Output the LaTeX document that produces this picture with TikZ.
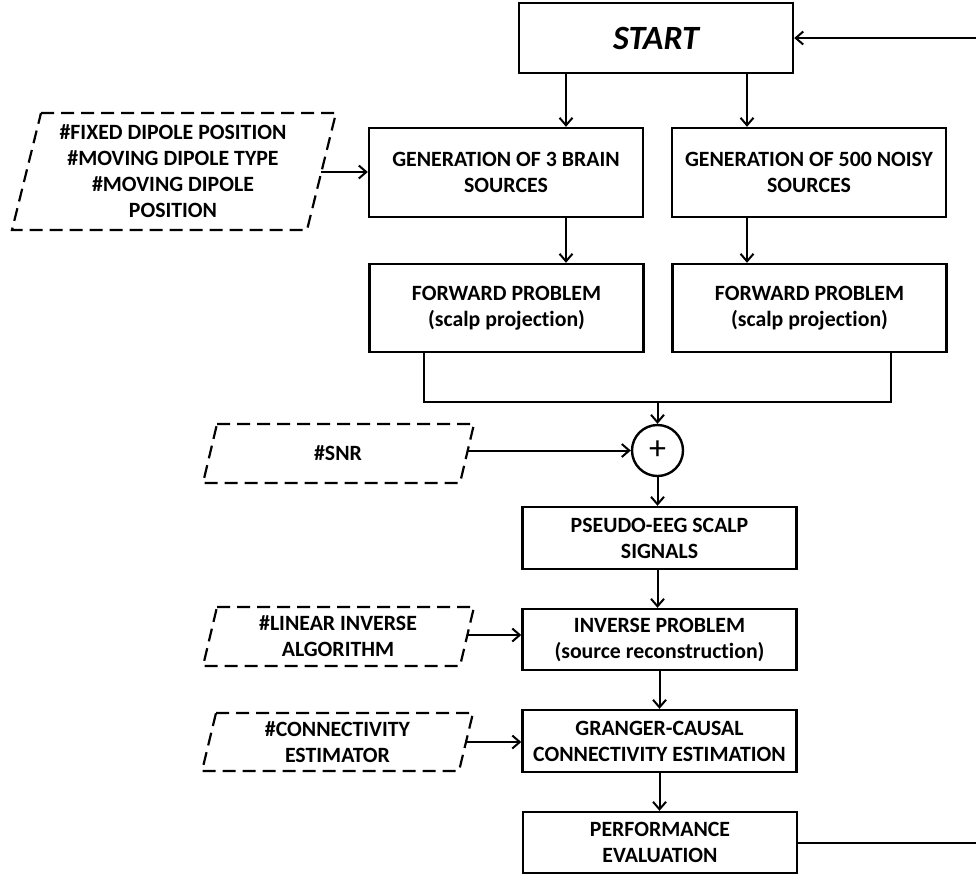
\documentclass[tikz,border=0pt]{standalone}
\usepackage{fontspec}
\setmainfont{Carlito}[Ligatures={NoCommon}]
\usetikzlibrary{arrows.meta}
\begin{document}
\begin{tikzpicture}[x=1pt,y=-1pt,
  box/.style={draw, line width=2.4pt, minimum width=274pt, align=center,
    font=\bfseries\fontsize{21.8}{26}\selectfont, inner sep=0pt},
  para/.style={draw, dash pattern=on 13pt off 7pt, line width=2.2pt},
  ptext/.style={align=center, font=\bfseries\fontsize{21.8}{26}\selectfont, inner sep=0pt},
  arr/.style={line width=2pt, -{Straight Barb[length=7.5pt,width=13pt]}},
  ln/.style={line width=2pt}
]
\useasboundingbox (0,0) rectangle (976,876);

% main boxes
\node[box, minimum height=70pt, font=\bfseries\itshape\fontsize{34}{40}\selectfont] (start) at (656,38) {START};
\node[box, minimum height=89pt] (gen1) at (506,172.5) {GENERATION OF 3 BRAIN\\SOURCES};
\node[box, minimum height=89pt] (gen2) at (809,172.5) {GENERATION OF 500 NOISY\\SOURCES};
\node[box, minimum height=88pt] (fwd1) at (506.5,308) {FORWARD PROBLEM\\(scalp projection)};
\node[box, minimum height=88pt] (fwd2) at (809.5,308) {FORWARD PROBLEM\\(scalp projection)};
\node[circle, draw, line width=2.4pt, minimum size=51pt, inner sep=0pt,
  font=\fontsize{34}{34}\selectfont] (sum) at (657.5,450.5) {+};
\node[box, minimum height=62pt] (pseudo) at (659.5,538) {PSEUDO-EEG SCALP\\SIGNALS};
\node[box, minimum height=61pt] (inverse) at (659.5,639.5) {INVERSE PROBLEM\\(source reconstruction)};
\node[box, minimum height=62pt] (granger) at (659.5,741) {GRANGER-CAUSAL\\CONNECTIVITY ESTIMATION};
\node[box, minimum height=61pt] (perf) at (660,842.5) {PERFORMANCE\\EVALUATION};

% parameter parallelograms
\draw[para] (41,113) -- (336,113) -- (307,230) -- (12,230) -- cycle;
\node[ptext] (fixed) at (173,171.5) {\#FIXED DIPOLE POSITION\\\#MOVING DIPOLE TYPE\\\#MOVING DIPOLE\\POSITION};
\coordinate (fixedR) at (321.4,172);

\draw[para] (217,424) -- (474,424) -- (460,483) -- (203,483) -- cycle;
\node[ptext] (snr) at (338,453.5) {\#SNR};
\coordinate (snrR) at (467.7,450.5);

\draw[para] (217,607) -- (474,607) -- (460,666) -- (203,666) -- cycle;
\node[ptext] (linear) at (338,636.5) {\#LINEAR INVERSE\\ALGORITHM};
\coordinate (linR) at (467.3,635);

\draw[para] (216,713) -- (473,713) -- (459,771) -- (202,771) -- cycle;
\node[ptext] (conn) at (337.5,742) {\#CONNECTIVITY\\ESTIMATOR};
\coordinate (connR) at (466,742);

% connectors
\coordinate (s1) at ([xshift=-90pt]start.south);
\coordinate (s2) at ([xshift=91pt]start.south);
\draw[arr] (s1) -- (s1 |- gen1.north);
\draw[arr] (s2) -- (s2 |- gen2.north);
\draw[arr] (s1 |- gen1.south) -- (s1 |- fwd1.north);
\draw[arr] (s2 |- gen2.south) -- (s2 |- fwd2.north);

\coordinate (f1b) at ([xshift=-82.5pt]fwd1.south);
\coordinate (f2b) at ([xshift=81.5pt]fwd2.south);
\coordinate (jm) at (657.5,402);
\draw[ln] (f1b) |- (jm) -| (f2b);
\draw[arr] (jm) -- (sum.north);

\draw[arr] (fixedR) -- (fixedR -| gen1.west);
\draw[arr] (snrR) -- (sum.west);
\draw[arr] (sum.south) -- (sum.south |- pseudo.north);
\draw[arr] (pseudo.south -| sum.south) -- (inverse.north -| sum.south);
\draw[arr] (linR) -- (linR -| inverse.west);
\draw[arr] (inverse.south) -- (granger.north);
\draw[arr] (connR) -- (connR -| granger.west);
\draw[arr] (granger.south) -- (granger.south |- perf.north);

% feedback loop leaving the picture at the right edge
\coordinate (edge) at (976,0);
\draw[ln] (perf.east) -- (perf.east -| edge);
\draw[arr] (start.east -| edge) -- (start.east);
\end{tikzpicture}
\end{document}
